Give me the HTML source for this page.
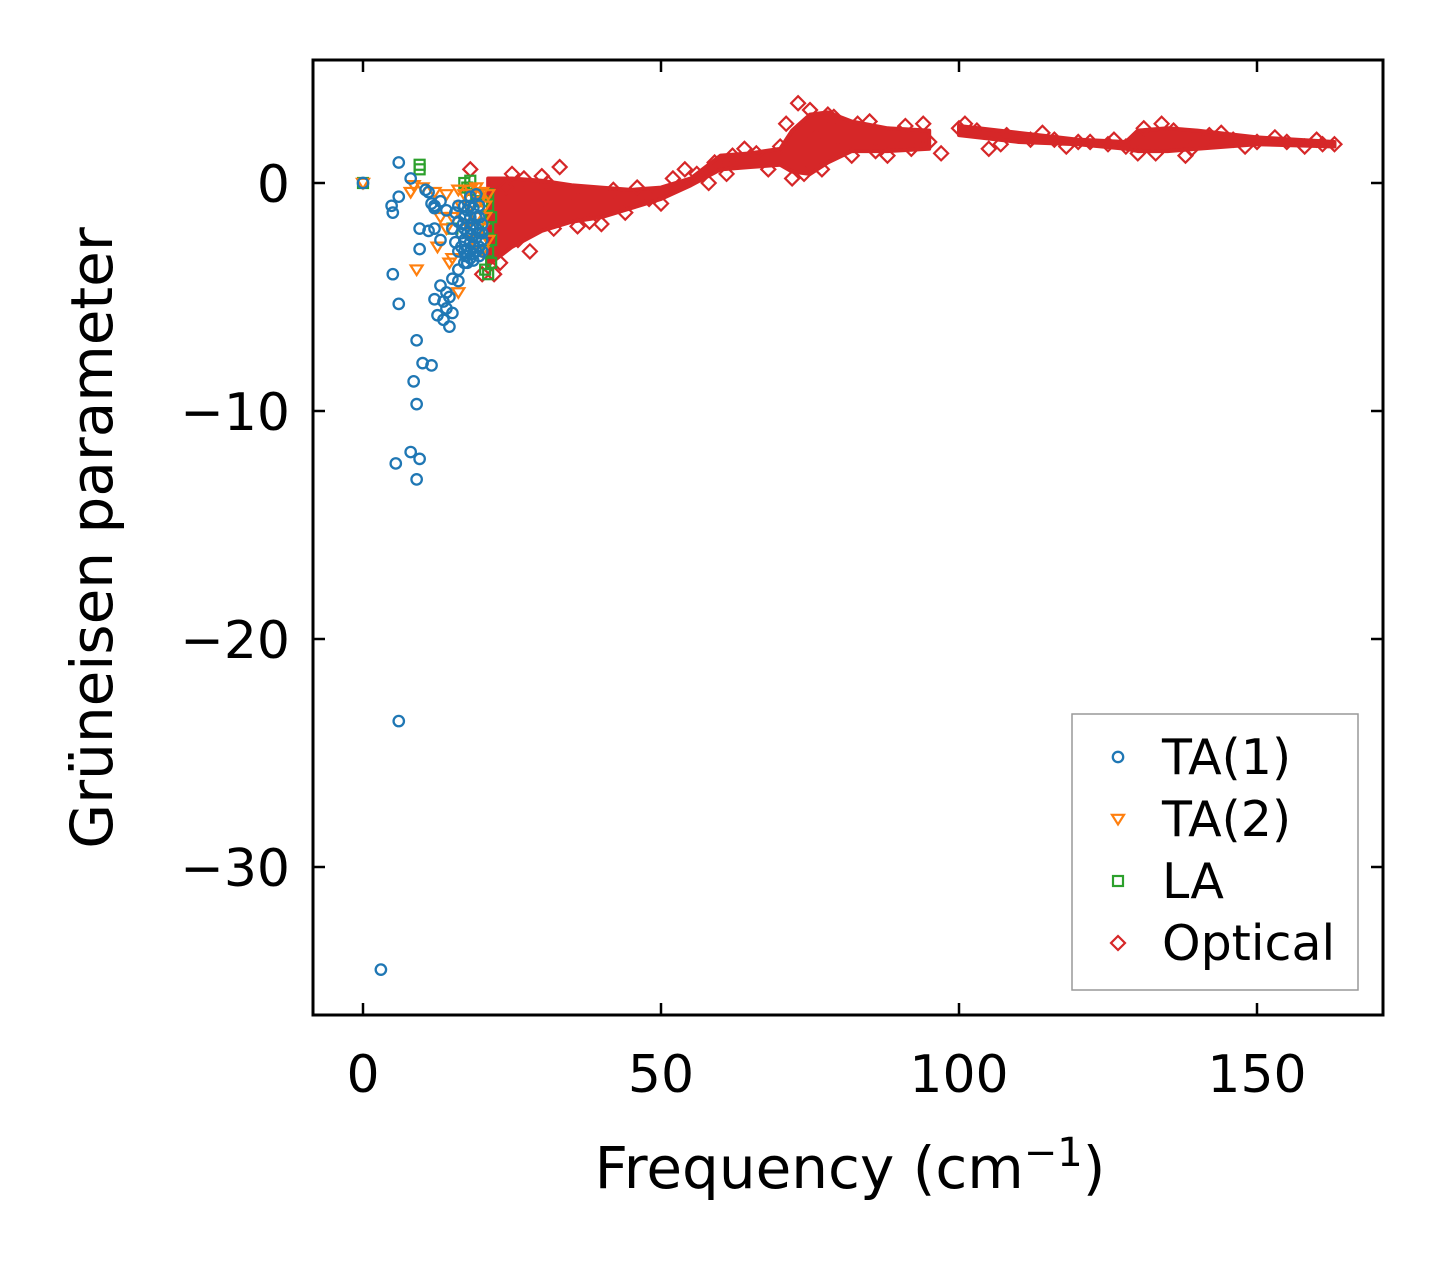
<!DOCTYPE html>
<html><head><meta charset="utf-8"><style>
html,body{margin:0;padding:0;background:#fff}
svg text{font-family:"DejaVu Sans","Liberation Sans",sans-serif}
</style></head><body>
<svg id="chart" width="1443" height="1264" xmlns="http://www.w3.org/2000/svg">
<rect width="1443" height="1264" fill="#fff"/>
<g id="marks"></g>
<g id="axes"></g>
</svg>
<script>
const xTicks=[0,50,100,150];
const yTicks=[0,-10,-20,-30];
const yTickLabels=["0","\u221210","\u221220","\u221230"];
const ta1=[[0,0],[3,-34.5],[6,-23.6],[5.5,-12.3],[8,-11.8],[9.5,-12.1],[9,-13],[9,-9.7],[8.5,-8.7],[10,-7.9],[11.5,-8],[9,-6.9],[6,-5.3],[5,-4],[9.5,-2.9],[9.5,-2],[5,-1.3],[4.8,-1],[6,0.9],[8,0.2],[11,-2.1],[12,-2],[13,-2.5],[12,-5.1],[12.5,-5.8],[13.5,-6],[14.5,-6.3],[14,-5.5],[15,-5.7],[13,-4.5],[14,-4.8],[15,-4.2],[16,-3.8],[17,-3.5],[16,-3],[17,-2.5],[18,-3],[19,-3],[18,-2],[17,-1.5],[19,-1.5],[20,-2.5],[18,-1],[16,-1],[15,-2],[14,-1.2],[13,-0.8],[12,-1],[11,-0.4],[10.5,-0.3],[6,-0.6],[17.5,-3.5],[18.5,-2.8],[19.5,-2.2],[20,-1.8],[16.5,-2.2],[15.5,-2.6],[18,-3.3],[19,-0.5],[18.5,-1.8],[17,-3],[19.5,-3.2],[16,-4.3],[14.5,-5],[13.5,-5.2],[12,-1.1],[11.5,-0.9],[17.5,-2.2],[18,-2.6],[18.5,-3.1],[19,-2.4],[19.5,-2.8],[17.5,-1.2],[18,-1.5],[18.5,-1.1],[19,-2],[17,-2],[16.5,-2.8],[17.5,-2.9],[18.5,-3.4],[19.5,-1.5],[20,-2.2],[16,-1.7],[15.5,-1.3],[17,-1],[18,-0.6],[19.5,-1],[20,-3],[18,-2.3],[17.2,-3.2],[16.8,-1.8]];
const ta2=[[0,0],[8,-0.4],[8.5,-0.1],[9,-3.8],[12.5,-2.8],[14,-2],[14.5,-3.5],[16,-4.8],[15,-1.5],[17,-0.5],[18,-1],[19,-1.5],[20,-2],[21,-0.5],[19,-0.2],[20,-3],[21,-2.5],[18.5,-2.5],[17.5,-1.8],[13,-1.5],[14,-0.5],[16,-0.3],[20.5,-1],[15,-3.3],[10,-0.2],[12,-0.4],[19.5,-0.8],[20.5,-1.5],[18,-0.3],[16.5,-1],[20,-0.4]];
const la=[[0,0],[9.5,0.8],[9.5,0.6],[17,0],[18,0.1],[17.5,-0.2],[21,-0.5],[21,-1],[21.5,-1.5],[21,-2],[21.5,-2.5],[21,-3],[21.5,-3.5],[21,-4],[20.5,-3.8],[15,-2],[19,-0.5],[20,-0.8],[18,-0.3]];
const bandFreq=[21,22,25,30,35,40,45,50,55,60,65,70,72,75,78,82,88,95];
const bandUpper=[0.2,0.2,0.2,0.1,-0.1,-0.2,-0.3,-0.2,0.2,1.2,1.3,1.5,2.3,3.0,3.1,2.7,2.4,2.3];
const bandLower=[-3.6,-3.4,-2.8,-2.1,-1.7,-1.5,-1.1,-0.7,-0.1,0.6,0.7,0.8,0.5,0.4,0.9,1.4,1.4,1.5];
const band2Freq=[100,110,120,128,130,135,140,150,163];
const band2Upper=[2.5,2.2,1.9,1.8,2.3,2.4,2.3,2.0,1.8];
const band2Lower=[2.1,1.8,1.7,1.5,1.4,1.4,1.5,1.7,1.6];
const optical=[[18,0.6],[20,-4],[22,-4],[23,-3.5],[25,0.4],[27,0.2],[30,0.3],[33,0.7],[28,-3],[32,-2],[38,-1.7],[44,-1.3],[48,-0.7],[52,0.2],[54,0.6],[56,0.4],[59,0.9],[62,1.2],[66,1.3],[70,1.6],[71,2.6],[73,3.5],[74,0.4],[76,2],[78,3],[80,1.5],[83,2.6],[86,1.4],[90,2.2],[92,1.5],[94,2.6],[97,1.3],[100,2.4],[103,2.3],[105,1.5],[108,2.1],[112,1.9],[116,1.9],[120,1.8],[122,1.8],[125,1.7],[128,1.6],[131,2.4],[133,1.3],[136,2.3],[139,1.5],[142,2.1],[146,1.9],[150,1.8],[155,1.8],[158,1.6],[161,1.7],[163,1.7],[24,-0.2],[26,-2.5],[29,-1],[31,0],[35,-0.5],[36,-1.9],[40,-1.8],[42,-0.3],[46,-0.2],[50,-0.9],[58,0],[61,0.4],[64,1.5],[68,0.6],[72,0.2],[75,3.2],[77,0.6],[79,2.9],[82,1.2],[85,2.7],[88,1.2],[91,2.5],[95,1.8],[101,2.6],[107,1.7],[114,2.2],[118,1.6],[126,1.9],[130,1.3],[134,2.6],[138,1.2],[144,2.2],[148,1.6],[153,2],[160,1.9]];

const L=313,R=1383,T=60,B=1015;
const X=v=>363+v*5.96, Y=v=>183-v*22.8;
const NS="http://www.w3.org/2000/svg";
const marks=document.getElementById('marks'), axes=document.getElementById('axes');
function mk(tag,attrs,parent){const e=document.createElementNS(NS,tag);for(const k in attrs)e.setAttribute(k,attrs[k]);parent.appendChild(e);return e;}
const C={b:"#1f77b4",o:"#ff7f0e",g:"#2ca02c",r:"#d62728"};
function bandPath(f,u,l){let d="M"+f.map((v,i)=>X(v)+","+Y(u[i])).join("L");d+="L"+f.map((v,i)=>X(v)+","+Y(l[i])).reverse().join("L")+"Z";return d;}
let p=mk('path',{d:bandPath(bandFreq,bandUpper,bandLower),fill:C.r,stroke:C.r,'stroke-width':4,'stroke-linejoin':'round'},marks);


p=mk('path',{d:bandPath(band2Freq,band2Upper,band2Lower),fill:C.r,stroke:C.r,'stroke-width':4,'stroke-linejoin':'round'},marks);


function diamond(x,y,s){return `M${x},${y-s}L${x+s},${y}L${x},${y+s}L${x-s},${y}Z`;}
function tri(x,y,s){return `M${x-s},${y-s*0.7}L${x+s},${y-s*0.7}L${x},${y+s*0.9}Z`;}
optical.forEach(d=>{const e=mk('path',{d:diamond(X(d[0]),Y(d[1]),7),fill:'none',stroke:C.r,'stroke-width':2.2},marks);

});
la.forEach(d=>{const e=mk('rect',{x:X(d[0])-5,y:Y(d[1])-5,width:10,height:10,fill:'none',stroke:C.g,'stroke-width':2.2},marks);

});
ta2.forEach(d=>{const e=mk('path',{d:tri(X(d[0]),Y(d[1]),6),fill:'none',stroke:C.o,'stroke-width':2.2},marks);

});
ta1.forEach(d=>{const e=mk('circle',{cx:X(d[0]),cy:Y(d[1]),r:5.2,fill:'none',stroke:C.b,'stroke-width':2.3},marks);

});

let fr=mk('rect',{x:L,y:T,width:R-L,height:B-T,fill:'none',stroke:'#000','stroke-width':3},axes);


xTicks.forEach(v=>{const x=X(v);
mk('line',{x1:x,x2:x,y1:B,y2:B-12,stroke:'#000','stroke-width':2.5},axes);
mk('line',{x1:x,x2:x,y1:T,y2:T+12,stroke:'#000','stroke-width':2.5},axes);
const t=mk('text',{x:x,y:1092,'font-size':52,'text-anchor':'middle'},axes);t.textContent=String(v);

});
yTicks.forEach((v,i)=>{const y=Y(v);
mk('line',{x1:L,x2:L+12,y1:y,y2:y,stroke:'#000','stroke-width':2.5},axes);
mk('line',{x1:R,x2:R-12,y1:y,y2:y,stroke:'#000','stroke-width':2.5},axes);
const t=mk('text',{x:290,y:y+19,'font-size':52,'text-anchor':'end'},axes);t.textContent=yTickLabels[i];

});
let xt=mk('text',{x:850,y:1188,'font-size':58,'text-anchor':'middle'},axes);
xt.innerHTML='Frequency (cm<tspan dy="-22" font-size="40">\u22121</tspan><tspan dy="22">)</tspan>';


let yt=mk('text',{x:112,y:538,'font-size':58,'text-anchor':'middle',transform:'rotate(-90 112 538)'},axes);
yt.textContent='Grüneisen parameter';


const lg=mk('g',{},axes);


mk('rect',{x:1072,y:714,width:286,height:276,fill:'#fff',stroke:'#999','stroke-width':1.5},lg);
const names=["TA(1)","TA(2)","LA","Optical"];
names.forEach((n,i)=>{const y=757+i*62;
let m;
if(i==0)m=mk('circle',{cx:1118,cy:y,r:5.2,fill:'none',stroke:C.b,'stroke-width':2.3},lg);
if(i==1)m=mk('path',{d:tri(1118,y,6),fill:'none',stroke:C.o,'stroke-width':2.2},lg);
if(i==2)m=mk('rect',{x:1113,y:y-5,width:10,height:10,fill:'none',stroke:C.g,'stroke-width':2.2},lg);
if(i==3)m=mk('path',{d:diamond(1118,y,7),fill:'none',stroke:C.r,'stroke-width':2.2},lg);


const t=mk('text',{x:1162,y:y+17,'font-size':49},lg);t.textContent=n;

});
</script>
</body></html>
